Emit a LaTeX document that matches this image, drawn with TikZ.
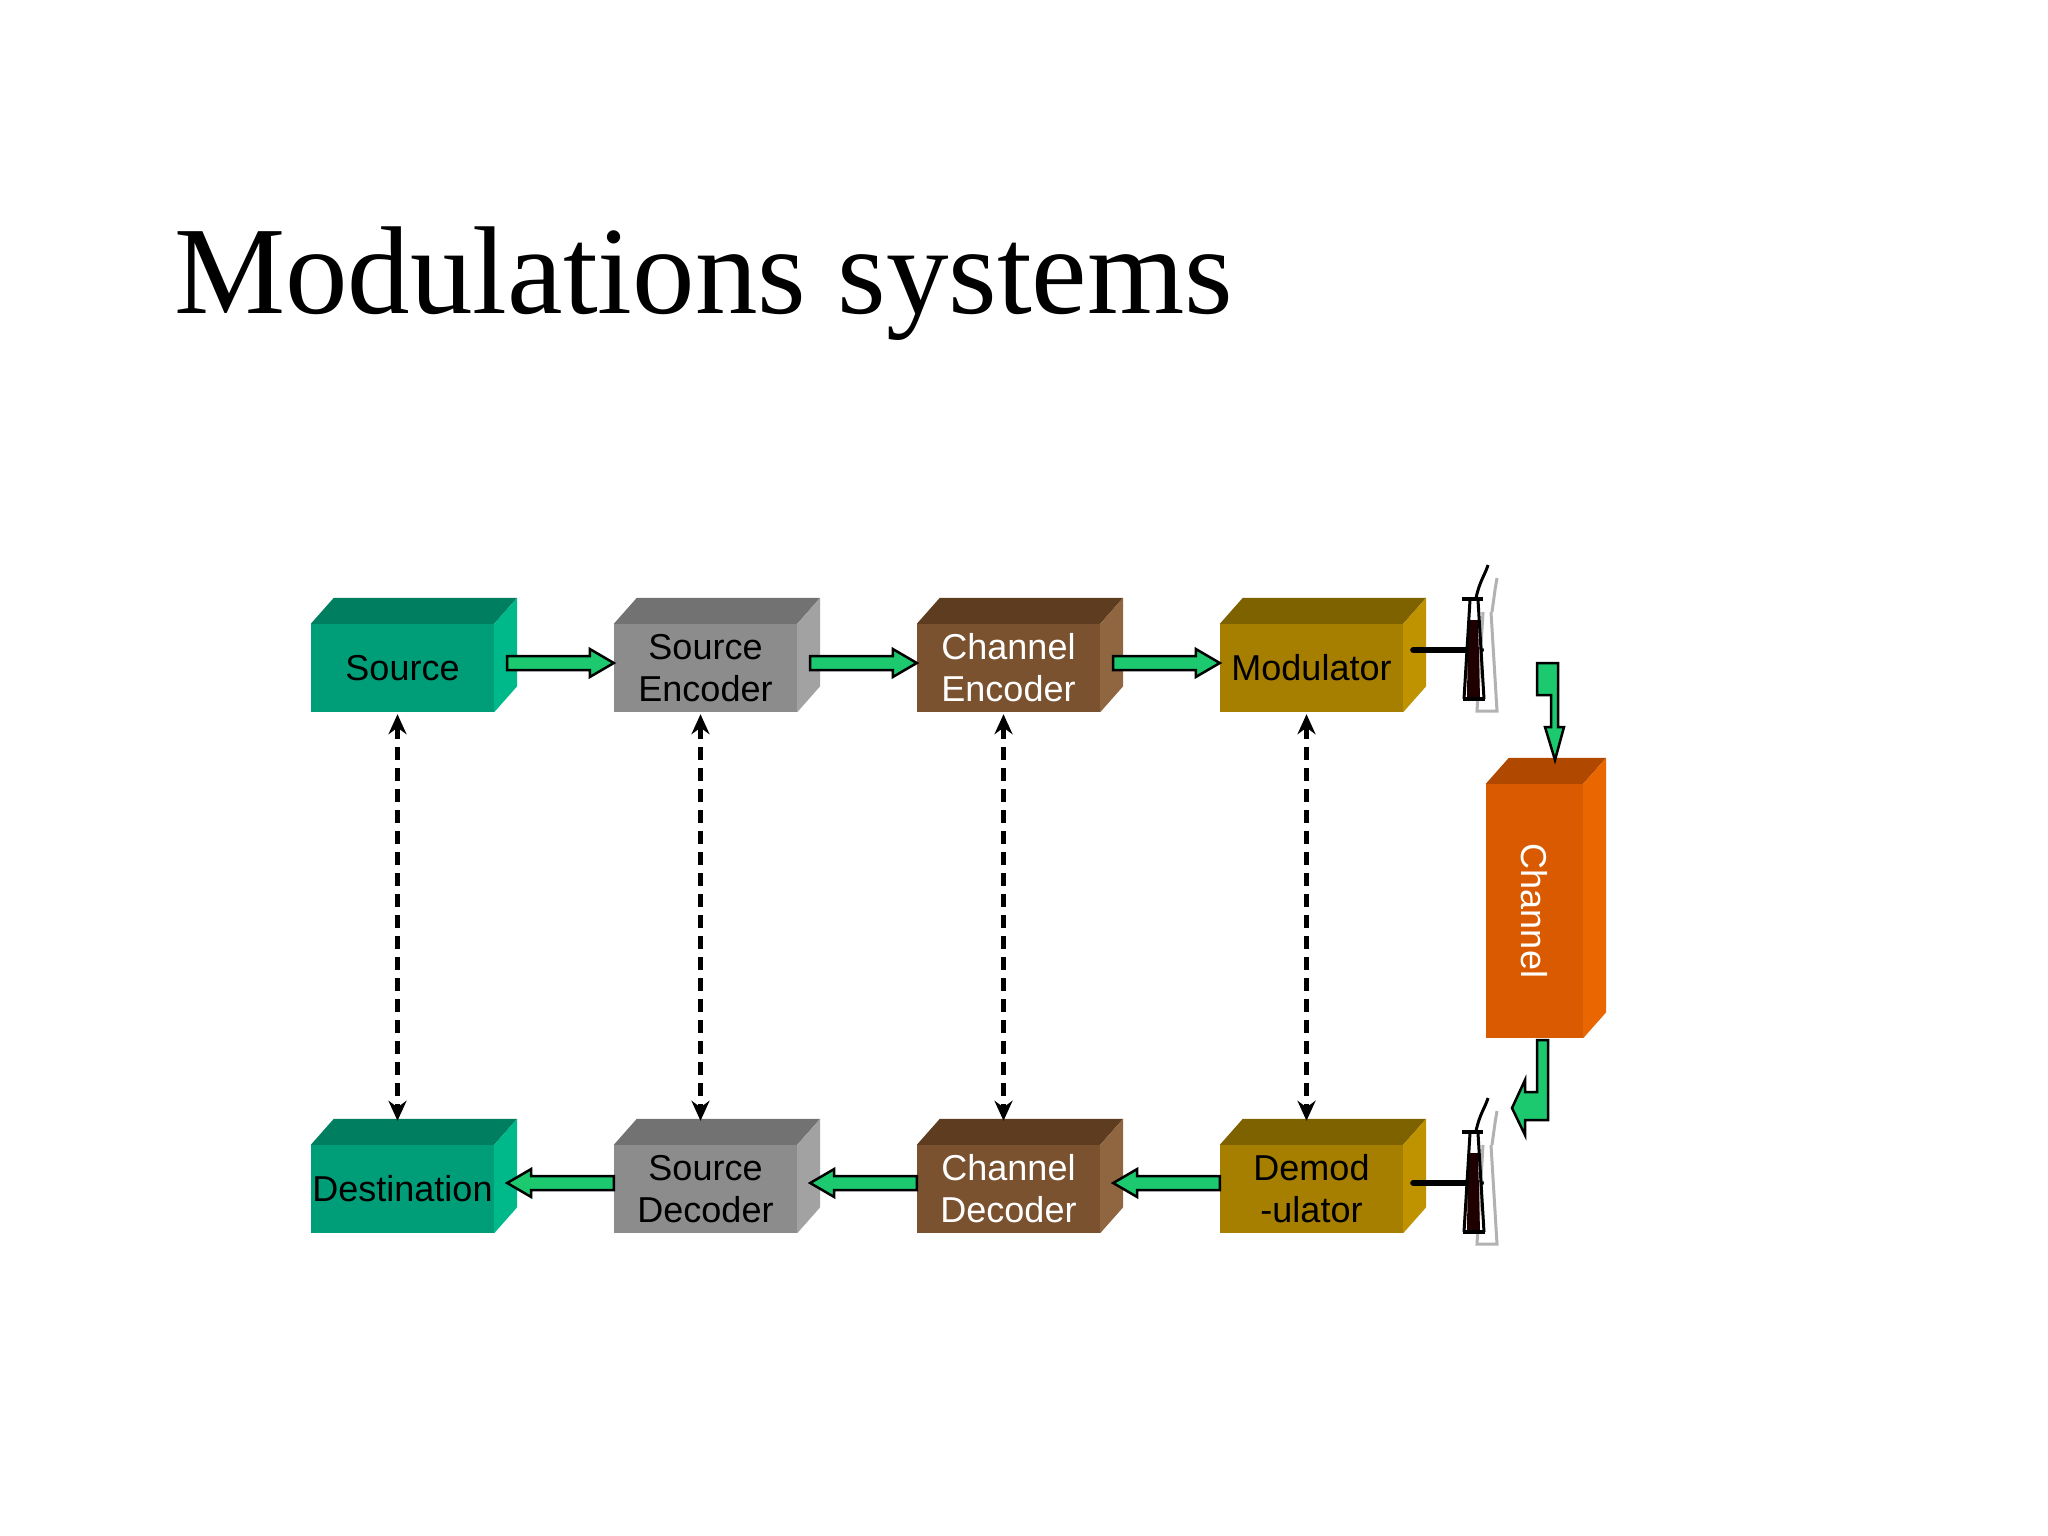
\documentclass[tikz,border=0pt]{standalone}
\usepackage{fontspec}
\setmainfont{Liberation Serif}
\newfontfamily\arial{Liberation Sans}
\usetikzlibrary{calc,arrows.meta}
\definecolor{gF}{HTML}{009E78}\definecolor{gT}{HTML}{007F60}\definecolor{gS}{HTML}{00B98A}
\definecolor{yF}{HTML}{8C8C8C}\definecolor{yT}{HTML}{727272}\definecolor{yS}{HTML}{A2A2A2}
\definecolor{bF}{HTML}{7A5230}\definecolor{bT}{HTML}{5E3C20}\definecolor{bS}{HTML}{906640}
\definecolor{oF}{HTML}{A67F00}\definecolor{oT}{HTML}{7F6200}\definecolor{oS}{HTML}{BF9300}
\definecolor{rF}{HTML}{D95A00}\definecolor{rT}{HTML}{B04800}\definecolor{rS}{HTML}{EA6600}
\definecolor{arrg}{HTML}{1DC96E}
\tikzset{
 box/.style={inner sep=0pt, minimum width=183pt, minimum height=88pt, align=center,
   font=\arial\fontsize{36}{42}\selectfont},
 garr/.style={draw=black, line width=2.5pt, fill=arrg, line join=miter},
 dashlink/.style={draw=black, line width=5.5pt, dash pattern=on 13pt off 8pt, {Stealth[length=20pt,width=18pt]}-{Stealth[length=20pt,width=18pt]}},
 feed/.style={line width=6pt, line cap=round},
}
\newcommand\cubeparts[3]{%
 \fill[#2] (#1.north west) -- ++(23,-26) -- ($(#1.north east)+(23,-26)$) -- (#1.north east) -- cycle;
 \fill[#3] (#1.north east) -- ++(23,-26) -- ($(#1.south east)+(23,-26)$) -- (#1.south east) -- cycle;}
\newcommand\rarrow[2]{\draw[garr] let \p1=(#1), \p2=(#2) in
 (\x1,\y1+7) -- (\x2-24,\y1+7) -- (\x2-24,\y1+14) -- (\x2,\y1) -- (\x2-24,\y1-14) -- (\x2-24,\y1-7) -- (\x1,\y1-7) -- cycle;}
\newcommand\larrow[2]{\draw[garr] let \p1=(#1), \p2=(#2) in
 (\x1,\y1+7) -- (\x2+24,\y1+7) -- (\x2+24,\y1+14) -- (\x2,\y1) -- (\x2+24,\y1-14) -- (\x2+24,\y1-7) -- (\x1,\y1-7) -- cycle;}
\newcommand\antenna[1]{\begin{scope}[shift={(#1)}]
 \draw[gray!60, line width=3pt] (10,-38) -- (4,61) -- (24,61) -- (18,-38);
 \draw[gray!60, line width=3pt] (19,-38) -- (22,-60) -- (24,-72);
 \fill[black!80!red!60!black] (-5,-30) -- (5,-30) -- (7,49) -- (-6,49) -- cycle;
 \draw[black, line width=4pt] (-11,-51) -- (10,-51);
 \draw[black, line width=3pt] (-3,-50) -- (-9,49) (5,-50) -- (11,49);
 \draw[black, line width=4pt] (-10,49) -- (12,49);
 \draw[black, line width=3pt] (3,-52) .. controls (7,-70) and (12,-75) .. (15,-85);
\end{scope}}
\begin{document}
\begin{tikzpicture}[x=1pt,y=-1pt]
\fill[white] (0,0) rectangle (2048,1536);
\useasboundingbox (0,0) rectangle (2048,1536);
\node[anchor=base west, font=\fontsize{125}{125}\selectfont, inner sep=0pt] (title) at (174,313) {Modulations systems};
% top row
\node[box, fill=gF] (src) at (402.5,668) {Source};
\node[box, fill=yF] (senc) at (705.5,668) {Source\\Encoder};
\node[box, fill=bF, text=white] (cenc) at (1008.5,668) {Channel\\Encoder};
\node[box, fill=oF] (mod) at (1311.5,668) {Modulator};
% bottom row
\node[box, fill=gF] (dst) at (402.5,1189) {Destination};
\node[box, fill=yF] (sdec) at (705.5,1189) {Source\\Decoder};
\node[box, fill=bF, text=white] (cdec) at (1008.5,1189) {Channel\\Decoder};
\node[box, fill=oF] (demod) at (1311.5,1189) {Demod\\-ulator};
% channel
\node[box, fill=rF, text=white, minimum width=97pt, minimum height=254pt] (chan) at (1534.5,911) {};
\node[font=\arial\fontsize{36}{42}\selectfont, text=white, rotate=-90] (chantext) at (chan.center) {Channel};
\cubeparts{src}{gT}{gS}
\cubeparts{senc}{yT}{yS}
\cubeparts{cenc}{bT}{bS}
\cubeparts{mod}{oT}{oS}
\cubeparts{dst}{gT}{gS}
\cubeparts{sdec}{yT}{yS}
\cubeparts{cdec}{bT}{bS}
\cubeparts{demod}{oT}{oS}
\cubeparts{chan}{rT}{rS}
% horizontal arrows
\rarrow{$(src.east)+(13,-5)$}{senc.west}
\rarrow{$(senc.east)+(13,-5)$}{cenc.west}
\rarrow{$(cenc.east)+(13,-5)$}{mod.west}
\larrow{$(demod.west)+(0,-6)$}{$(cdec.east)+(13,-6)$}
\larrow{$(cdec.west)+(0,-6)$}{$(sdec.east)+(13,-6)$}
\larrow{$(sdec.west)+(0,-6)$}{$(dst.east)+(13,-6)$}
% dashed links
\foreach \a/\b in {src/dst,senc/sdec,cenc/cdec,mod/demod}{
 \draw[dashlink] ($(\a.south)+(-5,2)$) -- ($(\b.north)+(-5,-24)$);}
% antennas
\coordinate (ant1) at (1473,650);
\coordinate (ant2) at (1473,1183);
\draw[feed] ($(mod.east)+(10,-18)$) -- ($(ant1)+(8,0)$);
\draw[feed] ($(demod.east)+(10,-6)$) -- ($(ant2)+(8,0)$);
\antenna{ant1}
\antenna{ant2}
% bent arrows
\draw[garr] (1537,663) -- (1558,663) -- (1558,727) -- (1564,727) -- (1555,760) -- (1545,727) -- (1551,727) -- (1551,695) -- (1537,695) -- cycle;
\draw[garr] (1537,1040) -- (1548,1040) -- (1548,1120) -- (1525,1120) -- (1525,1135) -- (1512,1108) -- (1525,1080) -- (1525,1092) -- (1537,1092) -- cycle;
\end{tikzpicture}
\end{document}
